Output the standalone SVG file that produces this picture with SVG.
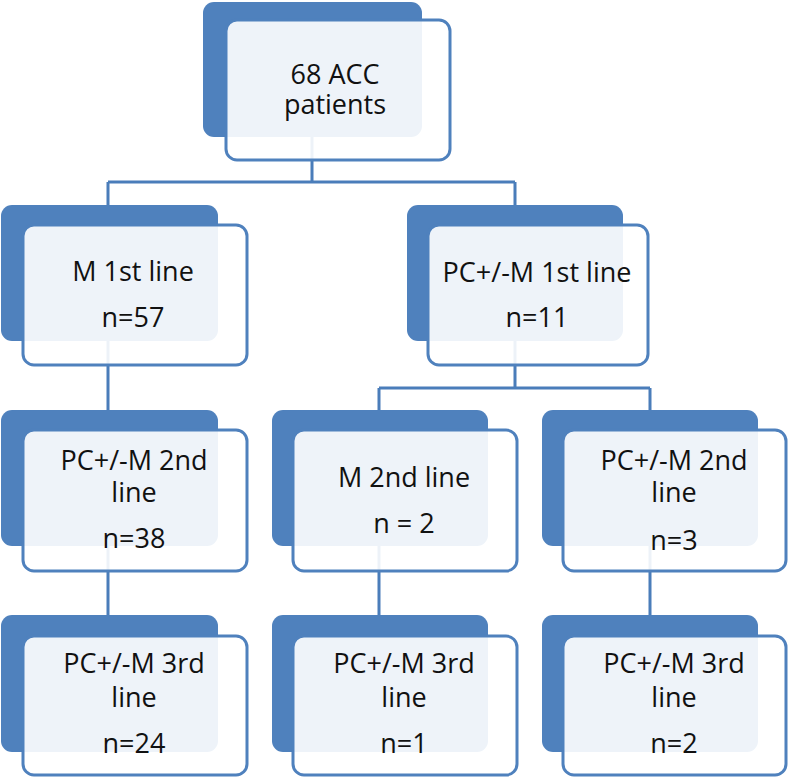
<svg xmlns="http://www.w3.org/2000/svg" width="788" height="780" viewBox="0 0 788 780">
<style>
.back{fill:#4f81bd;}
.front{fill:#ffffff;fill-opacity:0.9;stroke:#4f81bd;stroke-width:3;}
.conn{fill:none;stroke:#4a7dba;stroke-width:3;}
text{font-family:"Open Sans","Liberation Sans",sans-serif;font-size:27px;fill:#111;text-anchor:middle;}
</style>
<rect width="788" height="780" fill="#ffffff"/>
<g id="connectors">
<path class="conn" d="M312,137 V182 M108,182 H515 M108,182 V205 M515,182 V205"/>
<path class="conn" d="M108,340 V410 M108,546 V615"/>
<path class="conn" d="M515,341 V388 M379,388 H650 M379,388 V410 M650,388 V410"/>
<path class="conn" d="M379,546 V615 M650,546 V615"/>
</g>
<g id="n0">
<rect class="back" x="203" y="2" width="219" height="135" rx="11"/>
<rect class="front" x="226" y="20" width="224" height="140" rx="11"/>
<text x="335" y="84">68 ACC</text>
<text x="335" y="114">patients</text>
</g>
<g id="n1">
<rect class="back" x="1" y="205" width="217" height="136" rx="11"/>
<rect class="front" x="23" y="225" width="224" height="140" rx="11"/>
<text x="133" y="281">M 1st line</text>
<text x="133" y="327">n=57</text>
</g>
<g id="n2">
<rect class="back" x="407" y="205" width="216" height="136" rx="11"/>
<rect class="front" x="428" y="225" width="220" height="140" rx="11"/>
<text x="537" y="282">PC+/-M 1st line</text>
<text x="537" y="327">n=11</text>
</g>
<g id="n3">
<rect class="back" x="1" y="410" width="217" height="136" rx="11"/>
<rect class="front" x="23" y="430" width="224" height="141" rx="11"/>
<text x="134" y="470">PC+/-M 2nd</text>
<text x="134" y="502">line</text>
<text x="134" y="548">n=38</text>
</g>
<g id="n4">
<rect class="back" x="272" y="410" width="216" height="136" rx="11"/>
<rect class="front" x="293" y="430" width="224" height="141" rx="11"/>
<text x="404" y="487">M 2nd line</text>
<text x="404" y="533">n = 2</text>
</g>
<g id="n5">
<rect class="back" x="542" y="410" width="216" height="136" rx="11"/>
<rect class="front" x="563" y="430" width="223" height="141" rx="11"/>
<text x="674" y="470">PC+/-M 2nd</text>
<text x="674" y="502">line</text>
<text x="674" y="550">n=3</text>
</g>
<g id="n6">
<rect class="back" x="1" y="615" width="217" height="137" rx="11"/>
<rect class="front" x="23" y="636" width="224" height="139" rx="11"/>
<text x="134" y="673">PC+/-M 3rd</text>
<text x="134" y="707">line</text>
<text x="134" y="753">n=24</text>
</g>
<g id="n7">
<rect class="back" x="272" y="615" width="216" height="137" rx="11"/>
<rect class="front" x="293" y="636" width="224" height="139" rx="11"/>
<text x="404" y="673">PC+/-M 3rd</text>
<text x="404" y="707">line</text>
<text x="404" y="753">n=1</text>
</g>
<g id="n8">
<rect class="back" x="542" y="615" width="216" height="137" rx="11"/>
<rect class="front" x="563" y="636" width="223" height="139" rx="11"/>
<text x="674" y="673">PC+/-M 3rd</text>
<text x="674" y="707">line</text>
<text x="674" y="753">n=2</text>
</g>
</svg>
